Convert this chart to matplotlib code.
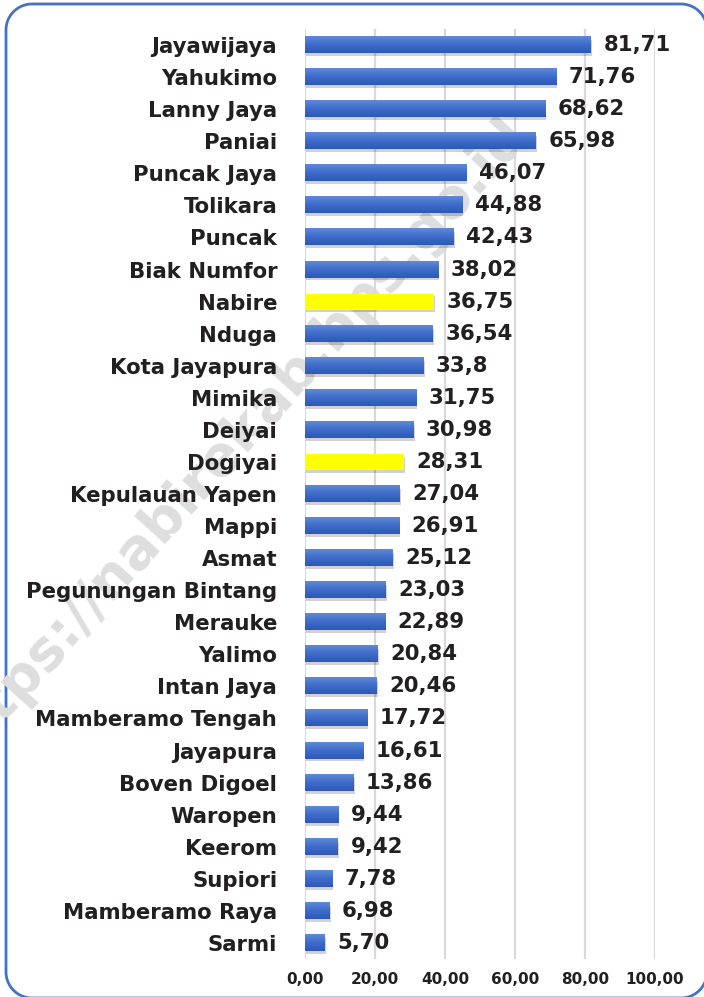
import numpy as np
import matplotlib
matplotlib.use("Agg")
import matplotlib.pyplot as plt
from matplotlib.colors import LinearSegmentedColormap

regions = ["Jayawijaya", "Yahukimo", "Lanny Jaya", "Paniai", "Puncak Jaya",
           "Tolikara", "Puncak", "Biak Numfor", "Nabire", "Nduga",
           "Kota Jayapura", "Mimika", "Deiyai", "Dogiyai", "Kepulauan Yapen",
           "Mappi", "Asmat", "Pegunungan Bintang", "Merauke", "Yalimo",
           "Intan Jaya", "Mamberamo Tengah", "Jayapura", "Boven Digoel",
           "Waropen", "Keerom", "Supiori", "Mamberamo Raya", "Sarmi"]
values = [81.71, 71.76, 68.62, 65.98, 46.07, 44.88, 42.43, 38.02, 36.75, 36.54,
          33.8, 31.75, 30.98, 28.31, 27.04, 26.91, 25.12, 23.03, 22.89, 20.84,
          20.46, 17.72, 16.61, 13.86, 9.44, 9.42, 7.78, 6.98, 5.70]
value_labels = ["81,71", "71,76", "68,62", "65,98", "46,07", "44,88", "42,43",
                "38,02", "36,75", "36,54", "33,8", "31,75", "30,98", "28,31",
                "27,04", "26,91", "25,12", "23,03", "22,89", "20,84", "20,46",
                "17,72", "16,61", "13,86", "9,44", "9,42", "7,78", "6,98", "5,70"]
highlight = ["Nabire", "Dogiyai"]
x_ticks = [0, 20, 40, 60, 80, 100]
x_tick_labels = ["0,00", "20,00", "40,00", "60,00", "80,00", "100,00"]

TEXT = "#231f20"
W, H = 704, 997
fig = plt.figure(figsize=(W / 100, H / 100), dpi=100)
fig.patch.set_facecolor("white")

# background layer in pixel units (origin bottom-left): watermark and frame
bg = fig.add_axes([0, 0, 1, 1])
bg.set_xlim(0, W)
bg.set_ylim(0, H)
bg.axis("off")
bg.set_zorder(0)
bg.text(232, H - 442, "https://nabirekab.bps.go.id", rotation=48,
        rotation_mode="anchor", fontsize=40, fontweight="bold",
        color="#dedede", family="DejaVu Sans", ha="center", va="center")


def rounded_rect(x0, y0, x1, y1, r, n=24):
    """Closed outline of a rounded rectangle as arrays of x and y."""
    xs, ys = [], []
    corners = [(x1 - r, y1 - r, 0), (x0 + r, y1 - r, 90),
               (x0 + r, y0 + r, 180), (x1 - r, y0 + r, 270)]
    for cx, cy, a0 in corners:
        t = np.radians(np.linspace(a0, a0 + 90, n))
        xs.extend(cx + r * np.cos(t))
        ys.extend(cy + r * np.sin(t))
    xs.append(xs[0])
    ys.append(ys[0])
    return np.array(xs), np.array(ys)


fx, fy = rounded_rect(6, -1, 707, H - 4, 26)
bg.plot(fx, fy, color="#4472c4", linewidth=2, solid_joinstyle="round")

ax = fig.add_axes([305 / W, 38 / H, 350 / W, 930 / H])
ax.patch.set_alpha(0)
ax.set_zorder(2)

n = len(regions)
y = np.arange(n)

blue_cmap = LinearSegmentedColormap.from_list("barblue", ["#6089d9", "#3d6cc9", "#2c59b5"])
grad = np.linspace(0, 1, 64).reshape(-1, 1)

bars = ax.barh(y, values, height=0.5, color="none", edgecolor="none", zorder=3)
for bar, name in zip(bars, regions):
    x0, y0 = bar.get_x(), bar.get_y()
    w, h = bar.get_width(), bar.get_height()
    # soft drop shadow
    ax.barh(y0 + h / 2 + 0.09, w, left=x0 + 0.35, height=h,
            color="#000000", alpha=0.18, zorder=2.5, edgecolor="none")
    if name in highlight:
        ax.barh(y0 + h / 2, w, left=x0, height=h, color="#ffff00",
                edgecolor="none", zorder=3)
    else:
        ax.imshow(grad, cmap=blue_cmap, aspect="auto",
                  extent=(x0, x0 + w, y0 + h, y0), zorder=3,
                  interpolation="bilinear")
ax.set_xlim(0, 100)
ax.set_ylim(n - 0.5, -0.5)

for yi, v, lab in zip(y, values, value_labels):
    ax.annotate(lab, (v, yi), xytext=(9, 0), textcoords="offset points",
                ha="left", va="center", fontsize=15.3, fontweight="bold",
                color=TEXT, family="DejaVu Sans", zorder=4)

ax.set_yticks(y)
ax.set_yticklabels(regions, fontsize=15.3, fontweight="bold", color=TEXT,
                   family="DejaVu Sans")
ax.set_xticks(x_ticks)
ax.set_xticklabels(x_tick_labels, fontsize=11, fontweight="bold", color=TEXT,
                   family="DejaVu Sans")
ax.tick_params(axis="y", length=0, pad=20)
ax.tick_params(axis="x", length=0, pad=9)

ax.grid(axis="x", color="#d9d9d9", linewidth=1.6, zorder=0)
ax.set_axisbelow(True)
for s in ax.spines.values():
    s.set_visible(False)

fig.savefig("out.png", dpi=100)
